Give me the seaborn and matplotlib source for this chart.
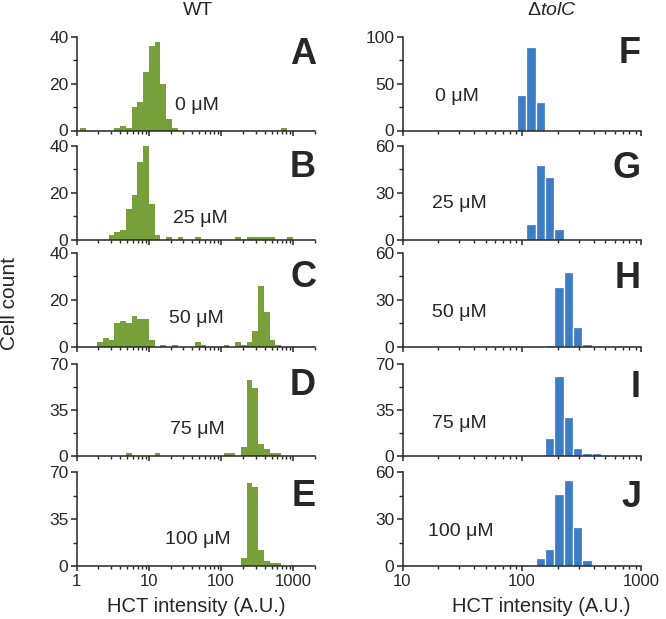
import numpy as np
import pandas as pd
import seaborn as sns
import matplotlib.pyplot as plt
from matplotlib.ticker import MultipleLocator, LogLocator, NullFormatter

# bin layout (log10 units), one list of counts per panel
wt_bin_start, wt_bin_width, wt_nbins = 0.048, 0.0795, 37
tolc_bin_start, tolc_bin_width, tolc_nbins = 1.025, 0.078, 26

def counts(n, pairs):
    c = np.zeros(n)
    for k, v in pairs.items():
        c[k] = v
    return c

wt_0 = counts(wt_nbins, {0: 1, 6: 1, 7: 2, 8: 1, 9: 10, 10: 12, 11: 25, 12: 36, 13: 38,
                         14: 20, 15: 5, 16: 1, 35: 1})
wt_25 = counts(wt_nbins, {5: 2, 6: 3, 7: 4, 8: 13, 9: 19, 10: 33, 11: 40, 12: 15, 13: 2,
                          15: 1, 17: 1, 20: 1, 27: 1, 29: 1, 30: 1, 31: 1, 32: 1, 33: 1, 36: 1})
wt_50 = counts(wt_nbins, {3: 2, 4: 4, 5: 3, 6: 10, 7: 11, 8: 10, 9: 13, 10: 12, 11: 12, 12: 3,
                          14: 1, 16: 1, 20: 2, 21: 1, 25: 1, 27: 2, 28: 1, 29: 2, 30: 7,
                          31: 26, 32: 15, 33: 3, 34: 1})
wt_75 = counts(wt_nbins, {8: 2, 13: 2, 25: 2, 26: 2, 28: 7, 29: 58, 30: 52, 31: 9, 32: 5,
                          33: 2, 34: 2})
wt_100 = counts(wt_nbins, {28: 6, 29: 62, 30: 59, 31: 12, 32: 4, 33: 2, 34: 2})

tolc_0 = counts(tolc_nbins, {8: 1, 11: 1, 12: 38, 13: 89, 14: 30, 15: 1, 23: 1, 24: 1})
tolc_25 = counts(tolc_nbins, {13: 10, 14: 48, 15: 40, 16: 7})
tolc_50 = counts(tolc_nbins, {15: 1, 16: 38, 17: 48, 18: 13, 19: 2})
tolc_75 = counts(tolc_nbins, {15: 14, 16: 61, 17: 30, 18: 6, 19: 2, 20: 2})
tolc_100 = counts(tolc_nbins, {11: 1, 14: 5, 15: 11, 16: 46, 17: 55, 18: 25, 19: 4})

doses = ["0 \u03bcM", "25 \u03bcM", "50 \u03bcM", "75 \u03bcM", "100 \u03bcM"]
wt_letters = ["A", "B", "C", "D", "E"]
tolc_letters = ["F", "G", "H", "I", "J"]
wt_ymax = [40, 40, 40, 70, 70]
tolc_ymax = [100, 60, 60, 70, 60]
wt_xticks = [1, 10, 100, 1000]
tolc_xticks = [10, 100, 1000]

green = "#78a03a"
blue = "#3d7dc6"

sns.set_style("ticks")
plt.rcParams['font.family'] = ['Liberation Sans', 'DejaVu Sans']
plt.rcParams['mathtext.fontset'] = 'custom'
plt.rcParams['mathtext.rm'] = 'Liberation Sans'
plt.rcParams['mathtext.it'] = 'Liberation Sans:italic'

W, H = 666, 619
fig = plt.figure(figsize=(W / 100, H / 100), dpi=100)

row_top = [37, 146, 253, 364, 472]
row_bot = [130.5, 239.5, 347, 456, 566]
cols = [(76.5, 315.2), (402.5, 641)]

# text positions in pixels (x, baseline y)
wt_dose_pos = [(175, 110), (173, 223), (169, 323), (170, 434), (165, 544)]
tolc_dose_pos = [(435, 101), (432, 208), (432, 317), (432, 428), (428, 536)]
wt_letter_base = [64, 177, 287, 395, 506]
tolc_letter_base = [63, 178, 288, 397, 507]


def fx(px):
    return px / W


def fy(py):
    return 1 - py / H


def panel(ci, ri, vals, start, width, color, edge, ymax, xlim, xticks):
    x0, x1 = cols[ci]
    ax = fig.add_axes([fx(x0), fy(row_bot[ri]), fx(x1 - x0), (row_bot[ri] - row_top[ri]) / H])
    centers = 10 ** (start + width * (np.arange(len(vals)) + 0.5))
    df = pd.DataFrame({"x": centers, "n": vals})
    sns.histplot(data=df, x="x", weights="n", binwidth=width,
                 binrange=(start, start + width * len(vals)), log_scale=True, ax=ax,
                 color=color, alpha=1, edgecolor=edge, linewidth=0.9 if edge == "white" else 0)
    ax.set_xlim(*xlim)
    ax.set_ylim(0, ymax)
    ax.set_xticks(xticks)
    ax.xaxis.set_minor_locator(LogLocator(base=10, subs=np.arange(2, 10)))
    ax.xaxis.set_minor_formatter(NullFormatter())
    if ri == 4:
        ax.set_xticklabels([str(t) for t in xticks])
    else:
        ax.set_xticklabels([])
    ax.set_yticks([0, ymax / 2, ymax])
    ax.set_yticklabels([str(int(v)) for v in [0, ymax / 2, ymax]])
    ax.yaxis.set_minor_locator(MultipleLocator(ymax / 4))
    ax.set_xlabel("")
    ax.set_ylabel("")
    sns.despine(ax=ax)
    for s in ["left", "bottom"]:
        ax.spines[s].set_linewidth(1.1)
    ax.tick_params(axis="x", which="major", direction="out", length=3.6, width=1.1,
                   labelsize=12, pad=2)
    ax.tick_params(axis="x", which="minor", direction="out", length=2.3, width=1.0)
    ax.tick_params(axis="y", which="major", direction="out", length=4.3, width=1.1,
                   labelsize=12.5, pad=1.5)
    ax.tick_params(axis="y", which="minor", direction="out", length=2.9, width=1.0)
    return ax


for i in range(5):
    panel(0, i, [wt_0, wt_25, wt_50, wt_75, wt_100][i], wt_bin_start, wt_bin_width,
          green, green, wt_ymax[i], (1, 2000), wt_xticks)
    panel(1, i, [tolc_0, tolc_25, tolc_50, tolc_75, tolc_100][i], tolc_bin_start, tolc_bin_width,
          blue, "white", tolc_ymax[i], (10, 1000), tolc_xticks)
    fig.text(fx(wt_dose_pos[i][0]), fy(wt_dose_pos[i][1]), doses[i], fontsize=14, va="baseline")
    fig.text(fx(tolc_dose_pos[i][0]), fy(tolc_dose_pos[i][1]), doses[i], fontsize=14, va="baseline")
    fig.text(fx(316), fy(wt_letter_base[i]), wt_letters[i], fontsize=26, fontweight="bold",
             ha="right", va="baseline")
    fig.text(fx(641), fy(tolc_letter_base[i]), tolc_letters[i], fontsize=26, fontweight="bold",
             ha="right", va="baseline")

fig.text(fx(198), fy(15), "WT", fontsize=14, ha="center", va="baseline")
fig.text(fx(552), fy(15), r"$\Delta\it{tolC}$", fontsize=14, ha="center", va="baseline")
fig.text(fx(196.5), fy(612), "HCT intensity (A.U.)", fontsize=14.5, ha="center", va="baseline")
fig.text(fx(541), fy(612), "HCT intensity (A.U.)", fontsize=14.5, ha="center", va="baseline")
fig.text(fx(10), fy(303), "Cell count", fontsize=15, rotation=90, ha="center", va="center")

fig.savefig("out.png", dpi=100)
